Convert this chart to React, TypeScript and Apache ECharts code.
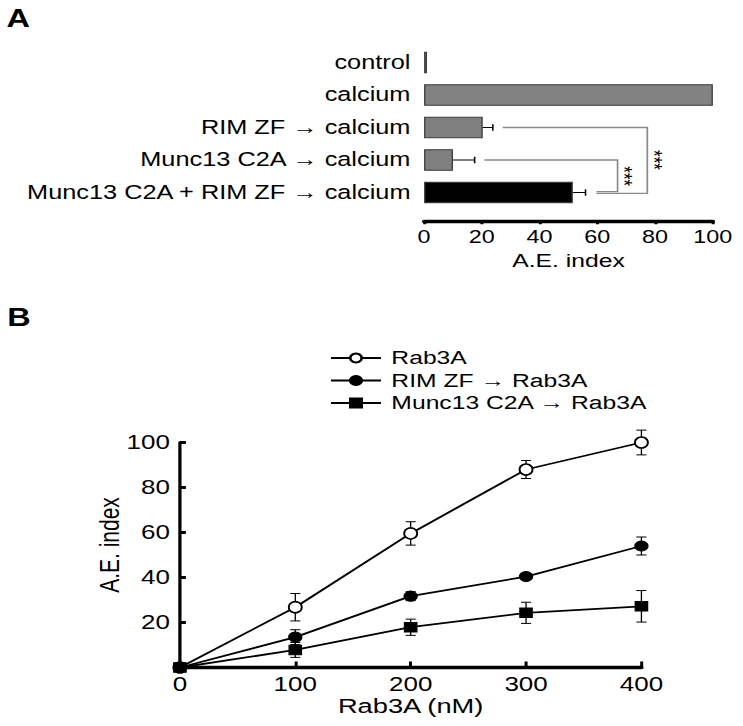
import React, { useEffect, useRef } from "react";
import * as echarts from "echarts";

// ---------- Panel A data ----------
const categoriesA = [
  "control",
  "calcium",
  "RIM ZF → calcium",
  "Munc13 C2A → calcium",
  "Munc13 C2A + RIM ZF → calcium",
];
const valuesA = [1, 100, 20.3, 10, 51.5];
const errorsA = [0, 0, 3.5, 7.5, 4.4];
const ticksA = { min: 0, max: 100, interval: 20 };
// significance brackets: from category -> to category, x extents in A.E. index units
const bracketFrom = [2, 3];
const bracketTo = [4, 4];
const bracketStart = [27.2, 20.9];
const bracketRight = [77.3, 67];
const bracketEnd = [59.7, 59.7];
const bracketLabels = ["***", "***"];

// ---------- Panel B data ----------
const doses = [0, 100, 200, 300, 400];
const rab3a = [0, 26.8, 59.6, 88, 100];
const rab3aErr = [0, 6.1, 5.2, 4, 5.5];
const rimZf = [0, 13.5, 31.7, 40.4, 54];
const rimZfErr = [0, 3.3, 2, 0.6, 4];
const munc13 = [0, 7.8, 17.9, 24.3, 27.2];
const munc13Err = [0, 3.3, 3.6, 4.7, 7];
const seriesNamesB = ["Rab3A", "RIM ZF → Rab3A", "Munc13 C2A → Rab3A"];

// ---------- styles ----------
const barColors = ["#8c8c8c", "#828282", "#808080", "#808080", "#000000"];
const FONT = "'Liberation Sans', Arial, Helvetica, sans-serif";
const INNER_W = 572;
const SCALE_X = 743 / INNER_W;

export default function App() {
  const ref = useRef<HTMLDivElement>(null);

  useEffect(() => {
    if (!ref.current) return;
    const chart = echarts.init(ref.current, null, { renderer: "svg" });

    const errSeriesB = (vals: number[], errs: number[]) => ({
      type: "custom",
      xAxisIndex: 1,
      yAxisIndex: 1,
      z: 1,
      silent: true,
      clip: false,
      data: doses.map((d, i) => [d, vals[i], errs[i]]),
      encode: { x: 0, y: 1 },
      renderItem: (params: any, api: any) => {
        const x = api.value(0);
        const y = api.value(1);
        const e = api.value(2);
        if (!e) return null;
        const t = api.coord([x, y + e]);
        const b = api.coord([x, y - e]);
        const w = 3.9;
        const st = { stroke: "#000", lineWidth: 1 };
        return {
          type: "group",
          children: [
            { type: "line", shape: { x1: t[0], y1: t[1], x2: b[0], y2: b[1] }, style: st },
            { type: "line", shape: { x1: t[0] - w, y1: t[1], x2: t[0] + w, y2: t[1] }, style: st },
            { type: "line", shape: { x1: b[0] - w, y1: b[1], x2: b[0] + w, y2: b[1] }, style: st },
          ],
        };
      },
    });

    const option: any = {
      animation: false,
      textStyle: { fontFamily: FONT, color: "#000" },
      graphic: [
        { type: "text", left: 5, top: 6, style: { text: "A", font: `bold 25px ${FONT}`, fill: "#000" } },
        { type: "text", left: 5.5, top: 304.5, style: { text: "B", font: `bold 25px ${FONT}`, fill: "#000" } },
      ],
      legend: {
        data: seriesNamesB,
        orient: "vertical",
        left: 253.8,
        top: 348,
        padding: 0,
        itemWidth: 38.5,
        itemHeight: 11,
        itemGap: 2.5,
        textStyle: { fontSize: 19, lineHeight: 20, color: "#000", fontFamily: FONT, padding: [0, 0, 0, 3] },
      },
      grid: [
        { left: 326.5, top: 46.25, width: 222.3, height: 162.5 },
        { left: 138.5, top: 442.5, width: 355.3, height: 225 },
      ],
      xAxis: [
        {
          gridIndex: 0,
          type: "value",
          min: ticksA.min,
          max: ticksA.max,
          interval: ticksA.interval,
          offset: 12,
          axisLine: { show: true, lineStyle: { color: "#000", width: 3.3 } },
          axisTick: { show: true, length: 3.5, lineStyle: { color: "#000", width: 2.3 } },
          axisLabel: { fontSize: 18, color: "#000", margin: 7 },
          splitLine: { show: false },
          name: "A.E. index",
          nameLocation: "middle",
          nameGap: 30,
          nameTextStyle: { fontSize: 19, color: "#000" },
        },
        {
          gridIndex: 1,
          type: "value",
          min: 0,
          max: 400,
          interval: 100,
          axisLine: { show: true, lineStyle: { color: "#000", width: 3.3 } },
          axisTick: { show: true, inside: true, length: 6, lineStyle: { color: "#000", width: 2.3 } },
          axisLabel: { fontSize: 20, color: "#000", margin: 6.5 },
          splitLine: { show: false },
          name: "Rab3A (nM)",
          nameLocation: "middle",
          nameGap: 26.5,
          nameTextStyle: { fontSize: 21, color: "#000" },
        },
      ],
      yAxis: [
        {
          gridIndex: 0,
          type: "category",
          inverse: true,
          data: categoriesA,
          axisLine: { show: false },
          axisTick: { show: false },
          axisLabel: { fontSize: 19.5, color: "#000", margin: 10.5 },
        },
        {
          gridIndex: 1,
          type: "value",
          min: 0,
          max: 100,
          interval: 20,
          axisLine: { show: true, lineStyle: { color: "#000", width: 2.5 } },
          axisTick: { show: true, inside: true, length: 4.6, lineStyle: { color: "#000", width: 3 } },
          axisLabel: { fontSize: 20, color: "#000", margin: 7.7, showMinLabel: false },
          splitLine: { show: false },
          name: "A.E. index",
          nameLocation: "middle",
          nameMoveOverlap: false,
          nameGap: 44,
          nameTextStyle: { fontSize: 21, color: "#000", padding: [0, 0, 0, 20] },
        },
      ],
      series: [
        {
          type: "bar",
          xAxisIndex: 0,
          yAxisIndex: 0,
          barWidth: 21.7,
          data: valuesA.map((v, i) => ({
            value: v,
            itemStyle: { color: barColors[i], borderColor: "#3a3a3a", borderWidth: 1 },
          })),
          z: 2,
        },
        {
          type: "custom",
          xAxisIndex: 0,
          yAxisIndex: 0,
          z: 1,
          silent: true,
          data: valuesA.map((v, i) => [v, i, errorsA[i]]),
          encode: { x: 0, y: 1 },
          renderItem: (params: any, api: any) => {
            const v = api.value(0);
            const i = api.value(1);
            const e = api.value(2);
            if (!e) return null;
            const p0 = api.coord([v, i]);
            const p1 = api.coord([v + e, i]);
            return {
              type: "group",
              children: [
                { type: "line", shape: { x1: p0[0], y1: p0[1], x2: p1[0], y2: p1[1] }, style: { stroke: "#000", lineWidth: 1 } },
                { type: "line", shape: { x1: p1[0], y1: p1[1] - 3.2, x2: p1[0], y2: p1[1] + 3.2 }, style: { stroke: "#000", lineWidth: 1.2 } },
              ],
            };
          },
        },
        {
          type: "custom",
          xAxisIndex: 0,
          yAxisIndex: 0,
          z: 3,
          silent: true,
          clip: false,
          data: bracketFrom.map((f, i) => [bracketStart[i], f, bracketRight[i], bracketTo[i], bracketEnd[i]]),
          encode: { x: 0, y: 1 },
          renderItem: (params: any, api: any) => {
            const k = params.dataIndex;
            const s = api.value(0);
            const f = api.value(1);
            const r = api.value(2);
            const t = api.value(3);
            const en = api.value(4);
            const dy = k === 0 ? 0.8 : -0.8;
            const a = api.coord([s, f]);
            const b = api.coord([r, f]);
            const c = api.coord([r, t]);
            const d = api.coord([en, t]);
            const mid = (b[1] + c[1]) / 2;
            const st = api.coord([r + 2.6, f]);
            return {
              type: "group",
              children: [
                {
                  type: "polyline",
                  shape: { points: [a, b, [c[0], c[1] + dy], [d[0], d[1] + dy]] },
                  style: { stroke: "#8a8a8a", lineWidth: 1.3, fill: null },
                },
                {
                  type: "text",
                  x: st[0],
                  y: mid,
                  rotation: -Math.PI / 2,
                  style: {
                    text: bracketLabels[k],
                    font: `17px ${FONT}`,
                    fill: "#000",
                    align: "center",
                    verticalAlign: "middle",
                  },
                },
              ],
            };
          },
        },
        errSeriesB(rab3a, rab3aErr),
        errSeriesB(rimZf, rimZfErr),
        errSeriesB(munc13, munc13Err),
        {
          type: "line",
          name: seriesNamesB[0],
          xAxisIndex: 1,
          yAxisIndex: 1,
          z: 3,
          clip: false,
          data: doses.map((d, i) => [d, rab3a[i]]),
          symbol: "circle",
          symbolSize: [10, 11],
          lineStyle: { color: "#000", width: 1.8 },
          itemStyle: { color: "#fff", borderColor: "#000", borderWidth: 1.5 },
        },
        {
          type: "line",
          name: seriesNamesB[1],
          xAxisIndex: 1,
          yAxisIndex: 1,
          z: 4,
          clip: false,
          data: doses.map((d, i) => [d, rimZf[i]]),
          symbol: "circle",
          symbolSize: [10, 10],
          lineStyle: { color: "#000", width: 1.8 },
          itemStyle: { color: "#000", borderColor: "#000", borderWidth: 1 },
        },
        {
          type: "line",
          name: seriesNamesB[2],
          xAxisIndex: 1,
          yAxisIndex: 1,
          z: 5,
          clip: false,
          data: doses.map((d, i) => [d, munc13[i]]),
          symbol: "rect",
          symbolSize: [9.5, 9.5],
          lineStyle: { color: "#000", width: 1.8 },
          itemStyle: { color: "#000", borderColor: "#000", borderWidth: 1 },
        },
      ],
    };

    chart.setOption(option);
    return () => chart.dispose();
  }, []);

  return (
    <div
      ref={ref}
      style={{
        position: "absolute",
        left: 0,
        top: 0,
        width: INNER_W,
        height: 726,
        transform: `scaleX(${SCALE_X})`,
        transformOrigin: "0 0",
        background: "#fff",
      }}
    />
  );
}
